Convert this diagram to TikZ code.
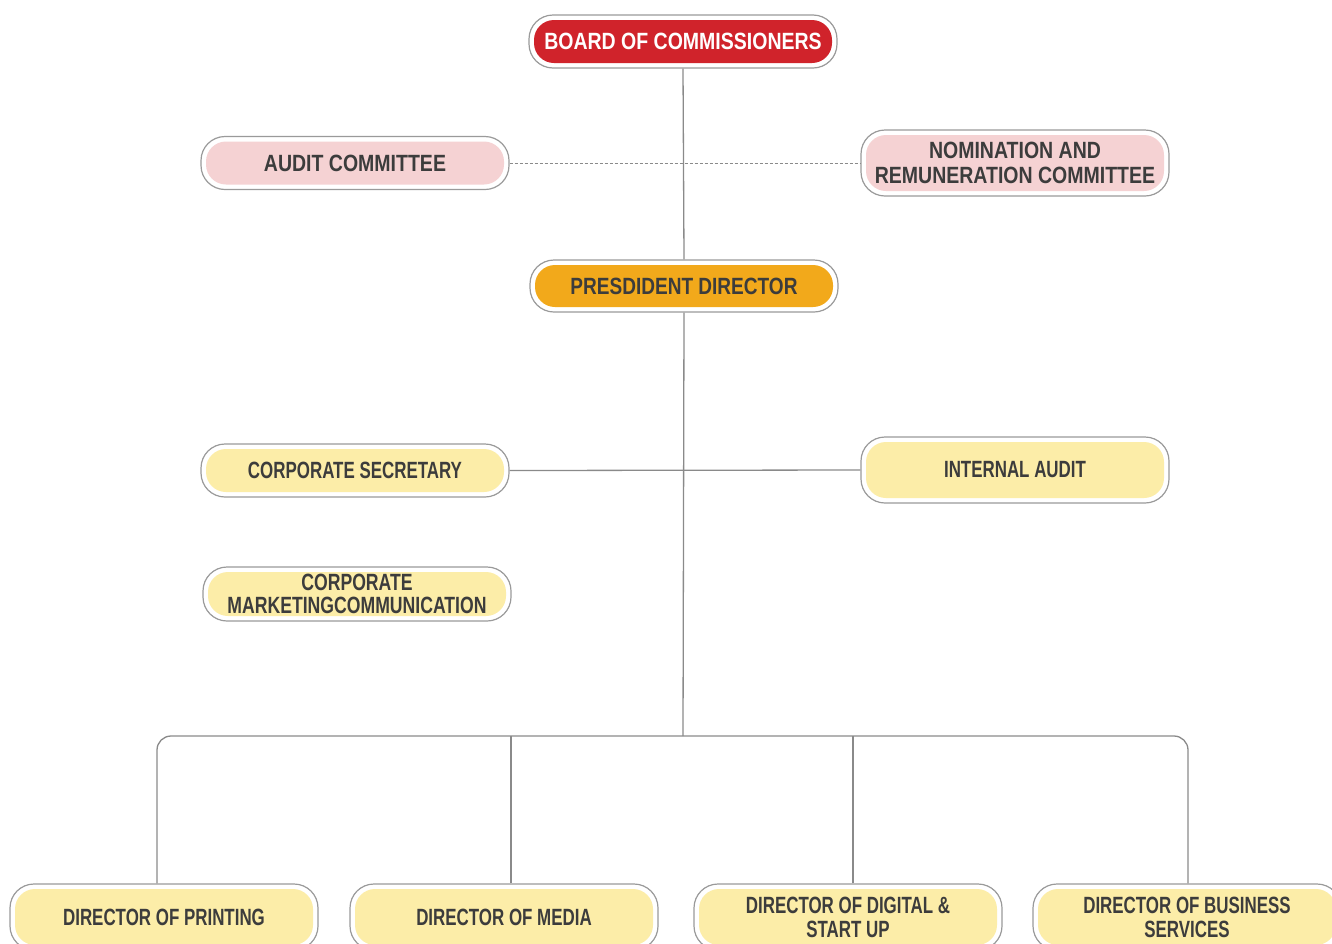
\documentclass[tikz,border=0pt]{standalone}
\usepackage{fontspec}
\setmainfont[FakeStretch=0.83]{Liberation Sans}
\newfontfamily\narrowA[FakeStretch=0.72]{Liberation Sans}
\newfontfamily\narrowB[FakeStretch=0.75]{Liberation Sans}
\newfontfamily\narrowC[FakeStretch=0.81]{Liberation Sans}
\definecolor{boxline}{HTML}{9A9A9A}
\definecolor{connline}{HTML}{8A8A8A}
\definecolor{txt}{HTML}{3C3C3C}
\definecolor{bred}{HTML}{D0232B}
\definecolor{bpink}{HTML}{F5D2D3}
\definecolor{borange}{HTML}{F2A91B}
\definecolor{byellow}{HTML}{FCEDA8}
\begin{document}
\begin{tikzpicture}[x=1pt,y=-1pt,
  box/.style={draw=boxline, line width=1.2pt, fill=white, rounded corners=24pt,
    minimum width=308pt, minimum height=53pt, inner sep=0pt, align=center,
    font=\bfseries\fontsize{23.5}{25.5}\selectfont, text=txt,
    path picture={\fill[#1, rounded corners=20pt]
      ([xshift=5pt,yshift=-5pt]path picture bounding box.north west) rectangle
      ([xshift=-5pt,yshift=5pt]path picture bounding box.south east);}},
  fA/.style={font=\narrowA\bfseries\fontsize{23.5}{#1}\selectfont},
  fB/.style={font=\narrowB\bfseries\fontsize{23.5}{#1}\selectfont},
  fC/.style={font=\narrowC\bfseries\fontsize{23.5}{#1}\selectfont},
  conn/.style={draw=connline, line width=1.3pt},
  dashconn/.style={draw=connline, line width=0.9pt, dash pattern=on 3pt off 2pt}
]
\clip (0,0) rectangle (1332,943);
\node[box=bred, text=white] (board) at (683,41.5) {BOARD OF COMMISSIONERS};
\node[box=bpink] (audit) at (355,163) {AUDIT COMMITTEE};
\node[box=bpink, minimum height=66pt] (nom) at (1015,163) {NOMINATION AND\\REMUNERATION COMMITTEE};
\node[box=borange, minimum height=52pt, fC=25] (pres) at (684,286) {PRESDIDENT DIRECTOR};
\node[box=byellow, fA=25] (csec) at (355,470.5) {CORPORATE SECRETARY};
\node[box=byellow, minimum height=66pt, fA=25] (iaudit) at (1015,470) {INTERNAL AUDIT};
\node[box=byellow, minimum height=54pt, fB=23] (cmkt) at (357,594) {CORPORATE\\MARKETINGCOMMUNICATION};
\node[box=byellow, minimum height=66pt, fA=25] (printing) at (164,917) {DIRECTOR OF PRINTING};
\node[box=byellow, minimum height=66pt, fA=25] (media) at (504,917) {DIRECTOR OF MEDIA};
\node[box=byellow, minimum height=66pt, fA=24] (digital) at (848,917) {DIRECTOR OF DIGITAL \&\\START UP};
\node[box=byellow, minimum height=66pt, fA=24] (business) at (1187,917) {DIRECTOR OF BUSINESS\\SERVICES};
\coordinate (br) at (683,736);
\draw[dashconn] (audit.east) -- (nom.west);
\draw[conn] (board.south) -- (pres.north);
\draw[conn] (csec.east) -- (iaudit.west);
\draw[conn] (pres.south) -- (br);
\draw[conn, rounded corners=14pt] ([xshift=-7pt]printing.north) |- (br) -| ([xshift=1pt]business.north);
\draw[conn] ([xshift=7pt]media.north) -- ([xshift=7pt]media.north |- br);
\draw[conn] ([xshift=5pt]digital.north) -- ([xshift=5pt]digital.north |- br);
\end{tikzpicture}
\end{document}
